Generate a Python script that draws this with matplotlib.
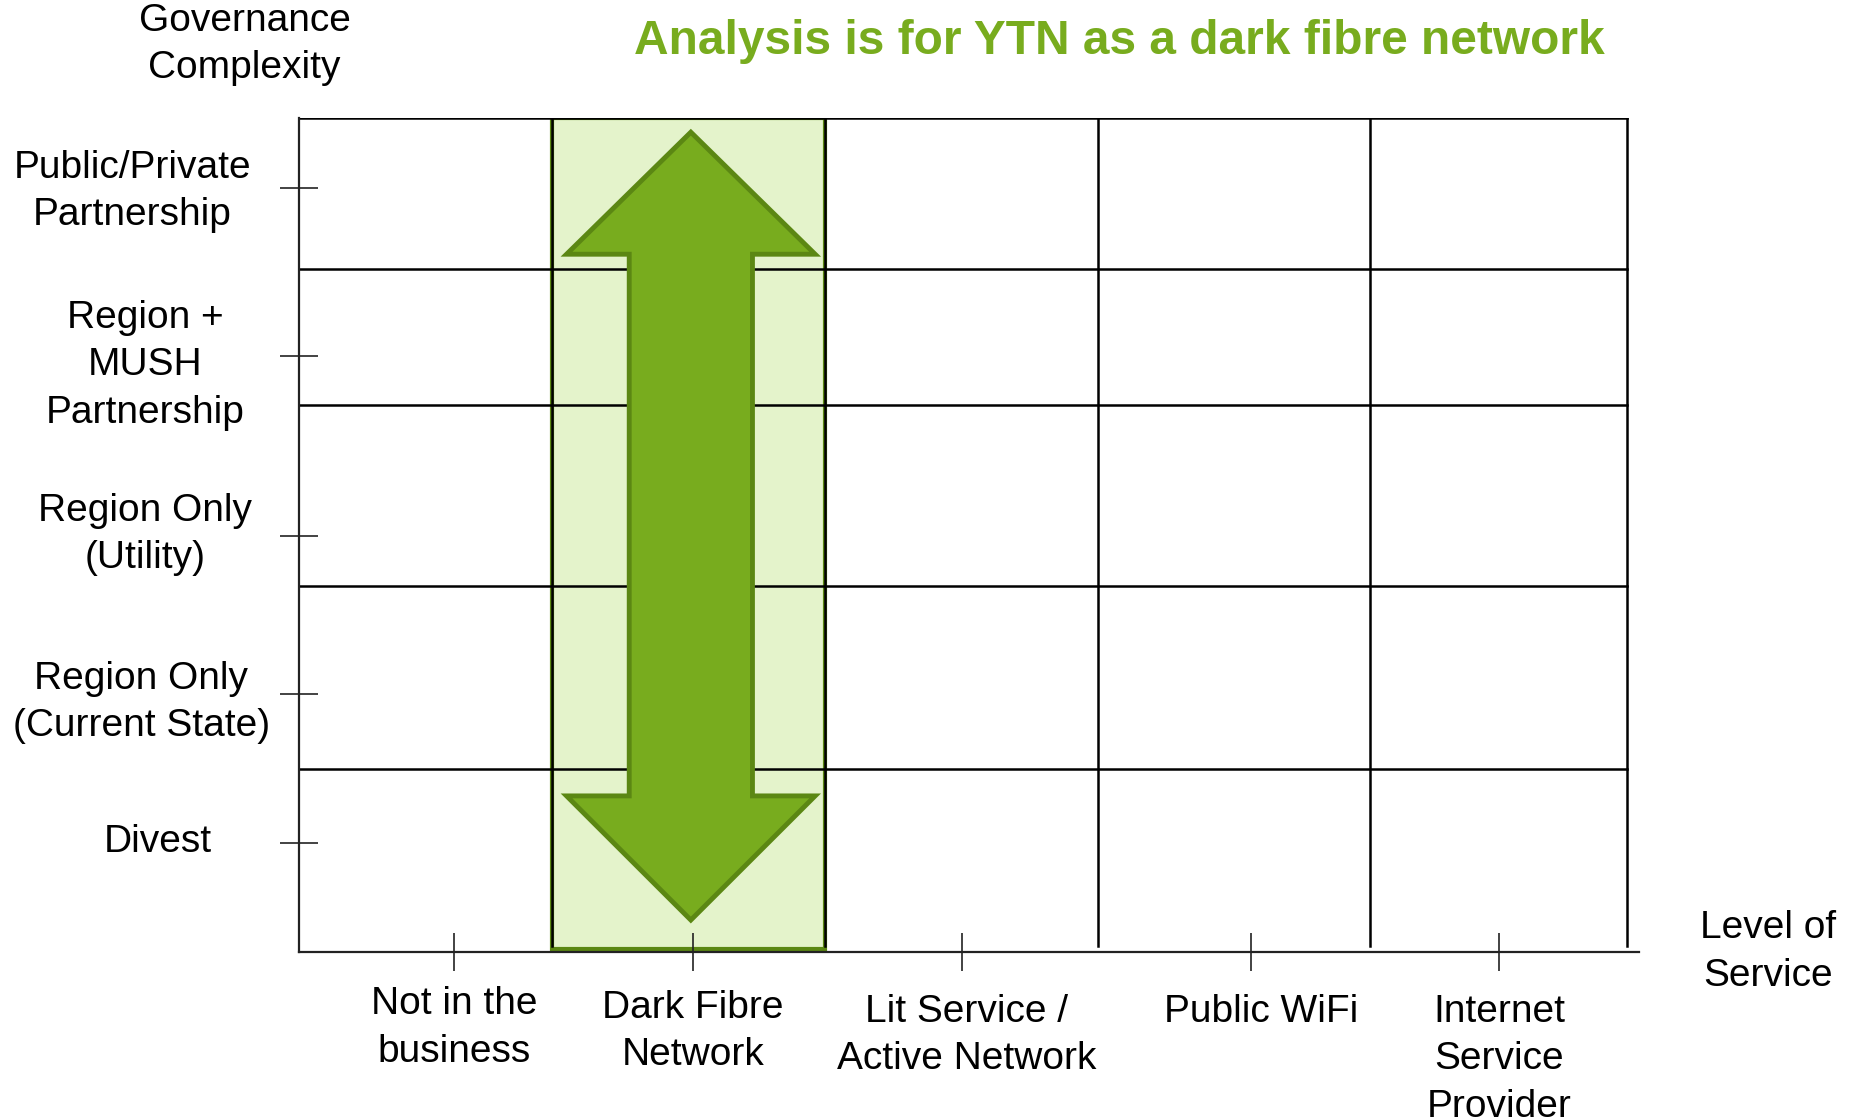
import numpy as np
import matplotlib.pyplot as plt
from matplotlib.patches import Rectangle, Polygon

plt.rcParams['font.family'] = ['Liberation Sans', 'DejaVu Sans']

# levels of service (x) and governance complexity (y)
service_levels = ["Not in the\nbusiness", "Dark Fibre\nNetwork", "Lit Service /\nActive Network",
                  "Public WiFi", "Internet\nService\nProvider"]
service_ticks = [0.584, 1.484, 2.496, 3.583, 4.519]
col_edges = [0.954, 1.979, 3.008, 4.033, 5.0]

governance = ["Divest", "Region Only\n(Current State)", "Region Only\n(Utility)",
              "Region +\nMUSH\nPartnership", "Public/Private\nPartnership"]
gov_ticks = [0.783, 1.855, 2.996, 4.289, 5.498]
row_edges = [1.319, 2.63, 3.932, 4.911, 6.0]

selected = 1  # Dark Fibre Network column

# label placement
gov_label_x = [-0.530, -0.593, -0.579, -0.579, -0.628]
gov_label_y = [0.791, 1.796, 3.004, 4.221, 5.472]
svc_label_x = [0.584, 1.484, 2.514, 3.623, 4.519]
svc_label_y = [-0.245, -0.27, -0.30, -0.30, -0.30]
ls = 1.41

green = '#78AC1E'
dark_green = '#5B8713'
light_green = '#E4F3CB'

fig = plt.figure(figsize=(18.55, 11.2), dpi=100)
ax = fig.add_axes([299 / 1855, 168 / 1120, (1639 - 299) / 1855, (1002 - 168) / 1120])
ax.set_xlim(0, 5.045)
ax.set_ylim(0, 6)

# highlighted column
x0, x1 = col_edges[selected - 1], col_edges[selected]
ax.add_patch(Rectangle((x0, 0.02), x1 - x0, 5.98, facecolor=light_green,
                       edgecolor=dark_green, lw=3, zorder=1))

# grid
for y in row_edges:
    ax.plot([0, col_edges[-1]], [y, y], color='black', lw=1.8, zorder=2)
for x in col_edges:
    ax.plot([x, x], [0.04, 6], color='black', lw=1.8, zorder=2)

# double headed arrow
cx = (service_ticks[selected] + (x0 + x1) / 2) / 2
hw, sw = 0.468, 0.232
top, top_base = 5.898, 5.02
bot, bot_base = 0.23, 1.123
arrow = np.array([
    [cx, top], [cx + hw, top_base], [cx + sw, top_base], [cx + sw, bot_base],
    [cx + hw, bot_base], [cx, bot], [cx - hw, bot_base], [cx - sw, bot_base],
    [cx - sw, top_base], [cx - hw, top_base]])
ax.add_patch(Polygon(arrow, closed=True, facecolor=green, edgecolor=dark_green,
                     lw=3.5, joinstyle='miter', zorder=3))

# axes
for s in ['top', 'right']:
    ax.spines[s].set_visible(False)
for s in ['left', 'bottom']:
    ax.spines[s].set_linewidth(1.6)
    ax.spines[s].set_color('#222222')
ax.set_xticks(service_ticks)
ax.set_yticks(gov_ticks)
ax.set_xticklabels([])
ax.set_yticklabels([])
ax.tick_params(direction='inout', length=28, width=1.2, color='#222222')

for lab, x, y in zip(governance, gov_label_x, gov_label_y):
    ax.text(x, y, lab, ha='center', va='center', fontsize=28, linespacing=ls, clip_on=False)
for lab, x, y in zip(service_levels, svc_label_x, svc_label_y):
    ax.text(x, y, lab, ha='center', va='top', fontsize=28, linespacing=ls, clip_on=False)

ax.text(-0.205, 6.528, "Governance\nComplexity", ha='center', va='center', fontsize=28,
        linespacing=ls)
ax.text(5.530, 0.0, "Level of\nService", ha='center', va='center', fontsize=28, linespacing=ls)
ax.text(3.088, 6.553, "Analysis is for YTN as a dark fibre network", ha='center', va='center',
        fontsize=34.5, fontweight='bold', color=green)

plt.savefig('out.png', dpi=100)
